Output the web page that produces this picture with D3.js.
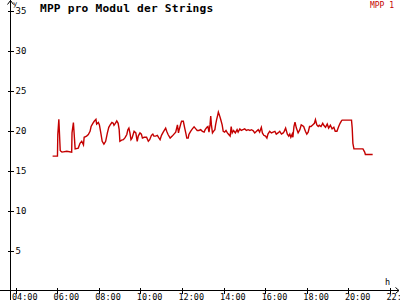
<!DOCTYPE html>
<html>
<head>
<meta charset="utf-8">
<script src="https://cdn.jsdelivr.net/npm/d3@7"></script>
<style>
    body { margin: 0; background: #fff; }
    svg { display: block; font-family: "DejaVu Sans Mono", monospace; }
    .axis line, .axis path { stroke: #000; shape-rendering: crispEdges; }
</style>
</head>
<body>
<div id="vis"></div>
<script>

// measured time of day and MPP value per module
const times = [
    "05:47","06:01","06:02","06:05","06:09","06:11","06:14","06:28","06:42","06:43",
    "06:47","06:52","07:01","07:06","07:11","07:16","07:18","07:25","07:30","07:35",
    "07:38","07:43","07:47","07:52","07:54","07:59","08:02","08:06","08:10","08:15",
    "08:20","08:25","08:29","08:33","08:38","08:42","08:44","08:48","08:52","08:56",
    "08:59","09:01","09:06","09:11","09:16","09:21","09:24","09:27","09:30","09:33",
    "09:36","09:42","09:47","09:51","09:54","09:59","10:03","10:06","10:11","10:18",
    "10:23","10:27","10:32","10:36","10:39","10:44","10:49","10:54","10:57","11:01",
    "11:06","11:13","11:16","11:20","11:26","11:32","11:37","11:42","11:47","11:50",
    "11:52","11:57","11:59","12:04","12:08","12:11","12:14","12:18","12:20","12:25",
    "12:30","12:35","12:40","12:44","12:49","12:54","12:59","13:04","13:07","13:12",
    "13:15","13:18","13:21","13:23","13:25","13:28","13:31","13:35","13:37","13:40",
    "13:43","13:45","13:49","13:52","13:56","13:59","14:03","14:07","14:11","14:15",
    "14:19","14:22","14:25","14:29","14:34","14:39","14:42","14:47","14:51","14:56",
    "15:01","15:06","15:11","15:16","15:20","15:25","15:30","15:35","15:40","15:44",
    "15:49","15:52","15:56","16:01","16:05","16:08","16:13","16:18","16:23","16:28",
    "16:32","16:37","16:42","16:47","16:52","16:55","16:59","17:04","17:08","17:11",
    "17:14","17:18","17:20","17:23","17:26","17:30","17:35","17:40","17:44","17:51",
    "17:56","18:00","18:04","18:08","18:12","18:17","18:22","18:25","18:29","18:33",
    "18:36","18:41","18:46","18:49","18:54","18:59","19:03","19:08","19:13","19:18",
    "19:22","19:27","19:32","19:36","19:40","19:42","20:09","20:11","20:13","20:16",
    "20:42","20:47","20:49","21:10"
];

const mpp1 = [
    16.8, 16.8, 19.5, 21.4, 17.5, 17.4, 17.3, 17.4, 17.3, 19.7,
    21.0, 17.7, 17.8, 18.4, 18.65, 18.2, 19.15, 19.3, 19.5, 19.9,
    20.5, 20.9, 21.15, 21.4, 20.8, 21.0, 20.7, 19.7, 18.65, 18.3,
    18.65, 19.7, 20.4, 20.7, 21.0, 20.9, 20.65, 20.9, 21.2, 20.9,
    20.1, 18.65, 18.8, 18.85, 19.1, 19.5, 20.1, 20.3, 19.7, 18.85,
    19.05, 19.9, 19.7, 18.65, 19.3, 19.7, 19.55, 19.05, 19.15, 19.15,
    18.65, 18.85, 19.4, 19.55, 19.3, 19.3, 19.4, 19.05, 18.85, 19.4,
    19.8, 20.3, 19.9, 19.5, 19.05, 19.3, 19.55, 19.8, 20.7, 19.7,
    20.1, 20.9, 21.15, 21.15, 20.3, 19.7, 19.05, 19.05, 19.5, 19.9,
    20.2, 20.45, 20.2, 20.0, 20.0, 20.1, 19.9, 19.8, 20.1, 20.4,
    20.5, 19.8, 20.7, 21.8, 20.7, 19.7, 19.9, 20.1, 20.7, 21.35,
    21.9, 22.3, 21.8, 21.35, 20.7, 19.9, 19.8, 20.0, 19.7, 19.5,
    19.3, 20.5, 19.7, 20.0, 19.7, 20.1, 19.8, 20.2, 20.0, 20.1,
    20.2, 20.0, 20.1, 20.0, 20.1, 20.0, 19.7, 19.9, 20.1, 19.8,
    20.4, 19.7, 19.4, 19.3, 19.05, 19.55, 19.9, 19.7, 19.8, 19.9,
    19.55, 19.7, 19.9, 19.55, 19.7, 19.9, 20.3, 19.55, 19.3, 19.55,
    19.15, 19.55, 19.15, 20.5, 21.05, 20.3, 19.7, 20.1, 20.7, 20.5,
    19.9, 19.55, 19.8, 20.5, 20.5, 20.7, 20.9, 21.35, 20.7, 20.5,
    20.65, 20.5, 20.9, 20.65, 20.4, 20.8, 20.3, 20.65, 20.2, 20.4,
    19.9, 19.9, 20.5, 20.9, 21.2, 21.3, 21.3, 20.3, 18.4, 17.7,
    17.7, 17.3, 17.0, 17.0
];

const yTicks = [5, 10, 15, 20, 25, 30, 35];
const xTickLabels = ["04:00","06:00","08:00","10:00","12:00","14:00","16:00","18:00","20:00","22:00"];

const title = 'MPP pro Modul der Strings';
const seriesName = 'MPP 1';
const lineColor = '#c40000';

let W = 400, H = 300;
let axisX = 10, axisY = 290;

let parseTime = d3.timeParse('%H:%M');

let data = times.map((t, i) => ({time: parseTime(t), value: mpp1[i]}));

let svg = d3.select('#vis')
    .append('svg')
    .attr('width', W)
    .attr('height', H);

// Scaling
let xScale = d3.scaleTime()
    .domain([parseTime('04:00'), parseTime('22:00')])
    .range([15.5, 390]);

let yScale = d3.scaleLinear()
    .domain([0, 35])
    .range([290.5, 10.5]);

// axis lines with arrows
svg.append('line')
    .attr('x1', 0).attr('x2', W - 1)
    .attr('y1', axisY + 0.5).attr('y2', axisY + 0.5)
    .attr('stroke', '#000');
svg.append('line')
    .attr('x1', axisX + 0.5).attr('x2', axisX + 0.5)
    .attr('y1', 0).attr('y2', H)
    .attr('stroke', '#000');
svg.append('path')
    .attr('d', 'M' + (axisX - 2.5) + ',4.5 L' + (axisX + 0.5) + ',0.5 L' + (axisX + 3.5) + ',4.5')
    .attr('fill', 'none')
    .attr('stroke', '#000');
svg.append('path')
    .attr('d', 'M395.5,' + (axisY - 2.5) + ' L399,' + (axisY + 0.5) + ' L395.5,' + (axisY + 3.5))
    .attr('fill', 'none')
    .attr('stroke', '#000');

// Y axis
let yAxis = d3.axisRight(yScale)
    .tickValues(yTicks)
    .tickSize(3)
    .tickPadding(2);

let yGuide = svg.append('g')
    .attr('class', 'axis')
    .attr('transform', 'translate(' + (axisX + 0.5) + ',0)')
    .call(yAxis);
yGuide.select('.domain').remove();
yGuide.selectAll('.tick line').attr('x1', -3);
yGuide.selectAll('.tick text')
    .attr('font-size', 9)
    .attr('font-family', '"DejaVu Sans Mono", monospace')
    .attr('fill', '#000');

// X axis
let xAxis = d3.axisBottom(xScale)
    .tickValues(xTickLabels.map(parseTime))
    .tickFormat(d3.timeFormat('%H:%M'))
    .tickSize(3);

let xGuide = svg.append('g')
    .attr('class', 'axis')
    .attr('transform', 'translate(0,' + (axisY + 0.5) + ')')
    .call(xAxis);
xGuide.select('.domain').remove();
xGuide.selectAll('.tick line').attr('y1', -3);
xGuide.selectAll('.tick text')
    .attr('text-anchor', 'start')
    .attr('x', -4)
    .attr('y', 9)
    .attr('dy', 0)
    .attr('font-size', 8.5)
    .attr('font-family', '"DejaVu Sans Mono", monospace')
    .attr('fill', '#000');

// axis names
svg.append('text')
    .attr('x', 13).attr('y', 5.5)
    .attr('font-size', 7)
    .text('y');
svg.append('text')
    .attr('x', 385).attr('y', 284.5)
    .attr('font-size', 8.5)
    .text('h');

// line
let line = d3.line()
    .x(d => xScale(d.time))
    .y(d => yScale(d.value));

svg.append('path')
    .datum(data)
    .attr('d', line)
    .attr('fill', 'none')
    .attr('stroke', lineColor)
    .attr('stroke-width', 1.4)
    .attr('stroke-linejoin', 'miter');

// title and legend
svg.append('text')
    .attr('x', 40).attr('y', 12)
    .attr('font-size', 11.2)
    .attr('font-weight', 'bold')
    .attr('letter-spacing', 0.2)
    .text(title);

svg.append('text')
    .attr('x', 394).attr('y', 7.5)
    .attr('text-anchor', 'end')
    .attr('font-size', 8)
    .attr('fill', lineColor)
    .text(seriesName);

</script>
</body>
</html>
